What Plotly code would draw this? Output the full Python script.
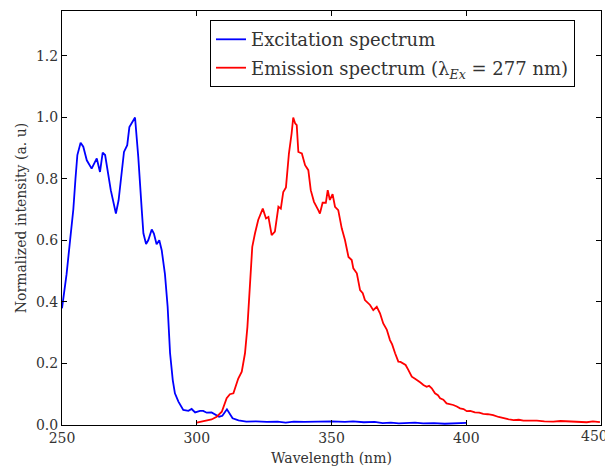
import plotly.graph_objects as go

# Excitation spectrum (blue)
ex_wl = [250.0, 251.7, 253.0, 254.2, 255.0, 255.7, 256.9, 257.9, 259.2, 261.0, 262.9, 264.1, 265.1, 266.0,
         268.1, 270.0, 271.0, 272.2, 273.0, 274.2, 275.0, 277.1, 278.3, 279.6, 280.2, 281.2, 282.0, 283.3,
         284.1, 285.1, 286.1, 287.0, 288.2, 289.2, 290.1, 291.1, 291.9, 293.2, 295.0, 296.9, 298.1, 299.4,
         301.2, 302.4, 303.7, 305.5, 307.4, 308.3, 309.5, 311.2, 313.3, 315.5, 318.4, 322, 326, 330, 333,
         336, 340, 345, 350, 355, 358, 362, 366, 369, 372, 375, 378, 381, 384, 388, 392, 396, 400]
ex_int = [0.379, 0.49, 0.60, 0.70, 0.80, 0.877, 0.917, 0.904, 0.86, 0.833, 0.866, 0.822, 0.885, 0.877,
          0.763, 0.687, 0.73, 0.839, 0.887, 0.909, 0.968, 0.999, 0.871, 0.698, 0.623, 0.588, 0.60, 0.635,
          0.622, 0.587, 0.60, 0.568, 0.49, 0.384, 0.233, 0.146, 0.103, 0.076, 0.049, 0.046, 0.052, 0.041,
          0.046, 0.046, 0.040, 0.041, 0.032, 0.027, 0.030, 0.051, 0.022, 0.015, 0.011, 0.012, 0.010, 0.011,
          0.008, 0.011, 0.010, 0.011, 0.012, 0.010, 0.012, 0.009, 0.010, 0.006, 0.008, 0.005, 0.006, 0.008,
          0.005, 0.006, 0.004, 0.006, 0.007]

# Emission spectrum (red)
em_wl = [300.0, 302, 303.7, 305.5, 307.4, 309.3, 311.1, 312.3, 313.6, 315.4, 316.7, 317.9, 318.8, 319.8,
         320.6, 321.6, 322.8, 324.5, 325.7, 326.6, 327.8, 329.0, 330.3, 331.2, 332.1, 333.1, 334.2, 335.2,
         335.8, 336.5, 337.1, 337.7, 339.0, 340.2, 341.4, 342.3, 343.5, 345.1, 345.7, 346.7, 347.9, 348.6,
         349.4, 350.4, 351.3, 352.5, 353.8, 355.0, 356.3, 357.5, 358.1, 359.4, 360.6, 361.6, 362.4, 364.3,
         365.5, 366.8, 368.0, 369.2, 370.5, 371.7, 372.5, 373.6, 374.8, 375.6, 376.7, 377.5, 378.5, 379.8,
         381, 382.2, 383, 384.1, 385.3, 386.2, 387.2, 388.4, 389.5, 390.3, 391.5, 392.7, 394, 395.2, 396.5,
         397.7, 399, 400.2, 401.5, 403.2, 404.8, 406.3, 408, 410.0, 412, 413.7, 415.5, 417.5, 419.5, 421.2,
         423.5, 426.2, 429, 432.3, 435, 438.5, 441, 444.7, 447, 449.6]
em_int = [0.008, 0.012, 0.014, 0.018, 0.027, 0.043, 0.087, 0.100, 0.103, 0.151, 0.173, 0.233, 0.319, 0.449,
          0.579, 0.622, 0.666, 0.703, 0.671, 0.676, 0.617, 0.628, 0.709, 0.703, 0.757, 0.772, 0.882, 0.947,
          0.999, 0.980, 0.974, 0.887, 0.882, 0.844, 0.828, 0.763, 0.725, 0.698, 0.687, 0.722, 0.722, 0.763,
          0.731, 0.750, 0.709, 0.698, 0.639, 0.601, 0.546, 0.536, 0.509, 0.493, 0.438, 0.428, 0.406, 0.390,
          0.373, 0.384, 0.363, 0.330, 0.310, 0.276, 0.262, 0.233, 0.206, 0.205, 0.200, 0.195, 0.179, 0.157,
          0.150, 0.141, 0.138, 0.130, 0.124, 0.127, 0.119, 0.103, 0.097, 0.087, 0.082, 0.070, 0.068, 0.065,
          0.060, 0.054, 0.052, 0.045, 0.046, 0.041, 0.040, 0.036, 0.035, 0.032, 0.026, 0.022, 0.019, 0.016,
          0.017, 0.014, 0.015, 0.014, 0.012, 0.011, 0.013, 0.011, 0.010, 0.009, 0.012, 0.009]

x_ticks = [250, 300, 350, 400, 450]
y_ticks = [0.0, 0.2, 0.4, 0.6, 0.8, 1.0, 1.2]

FONT = "'DejaVu Serif', 'Liberation Serif', serif"
TICK_FONT = dict(family=FONT, size=14, color="#333333")

fig = go.Figure()
fig.add_trace(go.Scatter(x=ex_wl, y=ex_int, mode="lines", name="Excitation spectrum",
                         legendgroup="a", line=dict(color="#0000ff", width=1.8)))
fig.add_trace(go.Scatter(x=em_wl, y=em_int, mode="lines",
                         name="Emission spectrum (λ<sub><i>Ex</i></sub> = 277 nm)",
                         legendgroup="b", line=dict(color="#ff0000", width=1.8)))

axis_common = dict(showline=True, linecolor="black", linewidth=1, mirror="ticks", ticks="inside",
                   ticklen=5, tickcolor="black", showgrid=False, zeroline=False, automargin=False,
                   tickfont=TICK_FONT)

# last x tick label sits at the page edge: draw it right-aligned so it is not clipped
x_ticktext = [str(v) for v in x_ticks[:-1]] + [""]

fig.update_layout(
    width=605, height=461,
    margin=dict(l=54, r=12, t=3, b=44),
    paper_bgcolor="white", plot_bgcolor="white",
    font=dict(family=FONT, color="#333333"),
    xaxis=dict(range=[250, 450], tickvals=x_ticks, ticktext=x_ticktext,
               title=dict(text="Wavelength (nm)", font=dict(family=FONT, size=14), standoff=8),
               **axis_common),
    yaxis=dict(range=[0, 1.345], tickvals=y_ticks, ticktext=[f"{v:.1f}" for v in y_ticks],
               title=dict(text="Normalized intensity (a. u)", font=dict(family=FONT, size=14), standoff=6),
               **axis_common),
    legend=dict(x=0.2746, y=0.978, xanchor="left", yanchor="top",
                bordercolor="black", borderwidth=1, bgcolor="white",
                font=dict(family=FONT, size=18, color="#333333"),
                traceorder="grouped", tracegroupgap=2),
    showlegend=True,
)
fig.add_annotation(x=x_ticks[-1], xref="x", y=0, yref="y", text=str(x_ticks[-1]),
                   showarrow=False, xanchor="right", yanchor="top", xshift=8, yshift=-2,
                   borderpad=0, font=TICK_FONT)

fig.write_html("out.html")
